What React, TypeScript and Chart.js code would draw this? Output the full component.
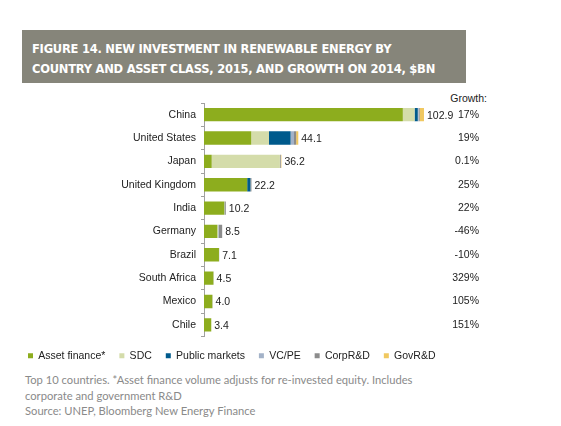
import React, { useRef, useEffect } from "react";
import { Chart, registerables } from "chart.js";

Chart.register(...registerables);

const countries = [
  "China",
  "United States",
  "Japan",
  "United Kingdom",
  "India",
  "Germany",
  "Brazil",
  "South Africa",
  "Mexico",
  "Chile",
];
const totals = ["102.9", "44.1", "36.2", "22.2", "10.2", "8.5", "7.1", "4.5", "4.0", "3.4"];
const growth = ["17%", "19%", "0.1%", "25%", "22%", "-46%", "-10%", "329%", "105%", "151%"];

const assetFinance = [93.0, 22.1, 3.6, 20.2, 9.5, 6.2, 7.0, 4.4, 3.9, 3.4];
const sdc = [5.5, 8.3, 31.9, 0, 0, 0.4, 0, 0, 0, 0];
const publicMarkets = [1.5, 10.1, 0, 1.5, 0, 0, 0, 0, 0, 0];
const vcpe = [0.4, 1.6, 0, 0, 0.2, 0.3, 0, 0, 0, 0];
const corpRD = [0.5, 1.0, 0.4, 0.5, 0.5, 1.6, 0.1, 0.1, 0.1, 0];
const govRD = [2.0, 1.0, 0.3, 0, 0, 0, 0, 0, 0, 0];

const seriesNames = ["Asset finance*", "SDC", "Public markets", "VC/PE", "CorpR&D", "GovR&D"];
const seriesColors = ["#8dad1e", "#d4dcaa", "#005a8c", "#a3b2c8", "#8c8c8c", "#f0c860"];

const FONT = "'Liberation Sans', Arial, sans-serif";

const totalLabels = {
  id: "totalLabels",
  afterDatasetsDraw(chart: Chart) {
    const ctx = chart.ctx;
    const meta = chart.getDatasetMeta(chart.data.datasets.length - 1);
    ctx.save();
    ctx.font = `10.5px ${FONT}`;
    ctx.fillStyle = "#222";
    ctx.textAlign = "left";
    ctx.textBaseline = "middle";
    meta.data.forEach((bar: any, i: number) => {
      const x = chart.scales.x.getPixelForValue(parseFloat(totals[i]));
      ctx.fillText(totals[i], x + 3, bar.y + 1);
    });
    ctx.restore();
  },
};

const InvestmentChart: React.FC = () => {
  const canvasRef = useRef<HTMLCanvasElement | null>(null);
  const chartRef = useRef<Chart | null>(null);

  useEffect(() => {
    if (chartRef.current) chartRef.current.destroy();
    if (!canvasRef.current) return;
    const values = [assetFinance, sdc, publicMarkets, vcpe, corpRD, govRD];
    chartRef.current = new Chart(canvasRef.current, {
      type: "bar",
      data: {
        labels: countries,
        datasets: values.map((d, i) => ({
          label: seriesNames[i],
          data: d,
          backgroundColor: seriesColors[i],
          borderWidth: 0,
          barPercentage: 0.57,
          categoryPercentage: 1,
        })),
      },
      options: {
        indexAxis: "y",
        animation: false,
        responsive: false,
        layout: { padding: { left: 14, right: 82, top: 14, bottom: 0 } },
        scales: {
          x: { stacked: true, display: false, min: 0, max: 114.6 },
          y: {
            stacked: true,
            offset: true,
            afterFit: (s: any) => {
              s.width = 190;
            },
            grid: {
              display: true,
              drawOnChartArea: false,
              drawTicks: true,
              tickLength: 3,
              offset: true,
              color: "#a0a0a0",
            },
            border: { display: true, color: "#a0a0a0" },
            ticks: { padding: 5, color: "#222", font: { family: FONT, size: 10.5 } },
          },
          y2: {
            type: "category",
            position: "right",
            labels: growth,
            offset: true,
            afterFit: (s: any) => {
              s.width = 30;
            },
            grid: { display: false },
            border: { display: false },
            ticks: { padding: 0, crossAlign: "far", color: "#222", font: { family: FONT, size: 10.5 } },
          },
        },
        plugins: {
          tooltip: { enabled: false },
          legend: {
            position: "bottom",
            align: "start",
            labels: {
              boxWidth: 5,
              boxHeight: 5,
              padding: 14,
              color: "#222",
              font: { family: FONT, size: 10.5 },
            },
          },
        },
      },
      plugins: [totalLabels],
    });
    return () => {
      chartRef.current?.destroy();
      chartRef.current = null;
    };
  }, []);

  return <canvas ref={canvasRef} width={561} height={282} style={{ position: "absolute", left: 0, top: 89 }} />;
};

const App: React.FC = () => {
  return (
    <div style={{ position: "relative", width: 561, height: 426, margin: -8, background: "#fff", overflow: "hidden" }}>
      <div
        style={{
          position: "absolute",
          left: 22,
          top: 30,
          width: 444,
          height: 53,
          paddingLeft: 10,
          background: "#86857a",
          color: "#fff",
          fontFamily: "'DejaVu Sans Condensed', 'DejaVu Sans', sans-serif",
          fontWeight: 700,
          fontSize: 12.8,
          letterSpacing: -0.25,
          lineHeight: "20px",
          paddingTop: 9,
          boxSizing: "border-box",
          whiteSpace: "nowrap",
        }}
      >
        FIGURE 14. NEW INVESTMENT IN RENEWABLE ENERGY BY
        <br />
        COUNTRY AND ASSET CLASS, 2015, AND GROWTH ON 2014, $BN
      </div>
      <div
        style={{
          position: "absolute",
          right: 561 - 487,
          top: 92,
          fontFamily: FONT,
          fontSize: 10.5,
          color: "#222",
        }}
      >
        Growth:
      </div>
      <InvestmentChart />
      <div
        style={{
          position: "absolute",
          left: 25,
          top: 372,
          fontFamily: "Lato, sans-serif",
          fontSize: 11.2,
          lineHeight: "15.5px",
          color: "#8a8a8a",
        }}
      >
        Top 10 countries. *Asset finance volume adjusts for re-invested equity. Includes
        <br />
        corporate and government R&amp;D
        <br />
        Source: UNEP, Bloomberg New Energy Finance
      </div>
    </div>
  );
};

export default App;
